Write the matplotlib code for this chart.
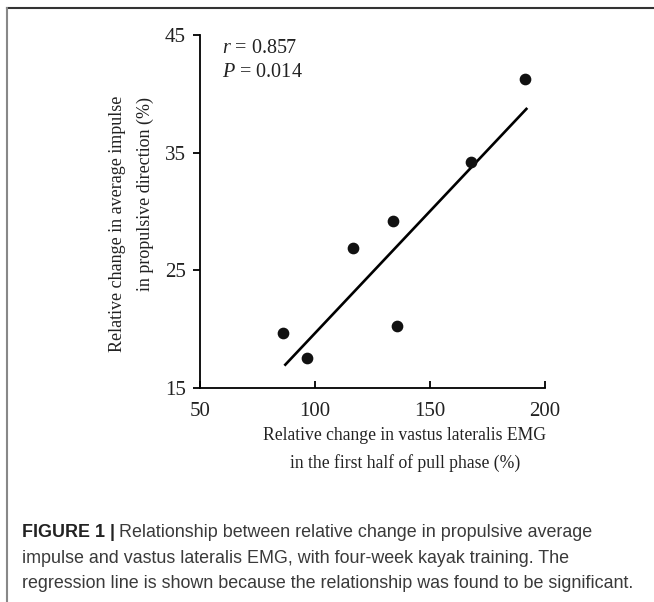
import matplotlib.pyplot as plt
from matplotlib.lines import Line2D

# data
emg_change = [85.9, 96.5, 116.7, 133.8, 135.8, 167.7, 191.3]
impulse_change = [19.65, 17.58, 26.93, 29.22, 20.28, 34.21, 41.29]
reg_x = [86.7, 192.3]
reg_y = [16.9, 38.8]
x_ticks = [50, 100, 150, 200]
y_ticks = [15, 25, 35, 45]

W, H = 654, 602
serif = ["Liberation Serif", "DejaVu Serif"]
sans = ["Liberation Sans", "DejaVu Sans"]
plt.rcParams["mathtext.fontset"] = "custom"
plt.rcParams["mathtext.rm"] = "Liberation Serif"
plt.rcParams["mathtext.it"] = "Liberation Serif:italic"

fig = plt.figure(figsize=(W / 100, H / 100), dpi=100)
ax = fig.add_axes([200 / W, 1 - 388 / H, 345 / W, 353 / H])

ax.plot(reg_x, reg_y, color="black", lw=1.9, solid_capstyle="butt", zorder=2)
ax.scatter(emg_change, impulse_change, s=55, color="#111111", zorder=3, clip_on=False)

ax.set_xlim(50, 200)
ax.set_ylim(15, 45)
ax.set_xticks(x_ticks)
ax.set_yticks(y_ticks)
for s in ["top", "right"]:
    ax.spines[s].set_visible(False)
for s in ["left", "bottom"]:
    ax.spines[s].set_linewidth(1.3)
ax.tick_params(axis="x", direction="in", length=5, width=1.3, pad=10)
ax.tick_params(axis="y", direction="out", length=5, width=1.3, pad=5)
for lab in ax.get_xticklabels() + ax.get_yticklabels():
    lab.set_family(serif)
    lab.set_fontsize(15)
    lab.set_color("#222222")

ax.text(0.064, 0.949, r"$\mathit{r}$ = 0.857", transform=ax.transAxes,
        family=serif, fontsize=14.5, color="#222222", va="baseline")
ax.text(0.064, 0.881, r"$\mathit{P}$ = 0.014", transform=ax.transAxes,
        family=serif, fontsize=14.5, color="#222222", va="baseline")

# axis titles
fig.text(405 / W, 1 - 436 / H, "Relative change in vastus lateralis EMG",
         family=serif, fontsize=12.7, color="#222222", ha="center", va="center")
fig.text(405 / W, 1 - 463 / H, "in the first half of pull phase (%)",
         family=serif, fontsize=12.7, color="#222222", ha="center", va="center")
fig.text(118 / W, 1 - 224 / H, "Relative change in average impulse",
         family=serif, fontsize=13, color="#222222", ha="center", va="center", rotation=90)
fig.text(145 / W, 1 - 194 / H, "in propulsive direction (%)",
         family=serif, fontsize=13, color="#222222", ha="center", va="center", rotation=90)

# frame lines
fig.add_artist(Line2D([7 / W, 1], [1 - 8 / H, 1 - 8 / H], transform=fig.transFigure,
                      color="#333333", lw=1.5))
fig.add_artist(Line2D([7 / W, 7 / W], [0, 1 - 8 / H], transform=fig.transFigure,
                      color="#888888", lw=1.5))

# caption
renderer = fig.canvas.get_renderer()
cap_color = "#3a3a3a"
cap_size = 12.9
bold = fig.text(22 / W, 1 - 537 / H, "FIGURE 1 |", family=sans, fontsize=cap_size,
                weight="bold", color="#222222", va="baseline")
bb = bold.get_window_extent(renderer)
fig.text(bb.x1 / W + 4 / W, 1 - 537 / H,
         "Relationship between relative change in propulsive average",
         family=sans, fontsize=cap_size, color=cap_color, va="baseline")
fig.text(22 / W, 1 - 563 / H,
         "impulse and vastus lateralis EMG, with four-week kayak training. The",
         family=sans, fontsize=cap_size, color=cap_color, va="baseline")
fig.text(22 / W, 1 - 588 / H,
         "regression line is shown because the relationship was found to be significant.",
         family=sans, fontsize=cap_size, color=cap_color, va="baseline")

fig.savefig("out.png", dpi=100)
